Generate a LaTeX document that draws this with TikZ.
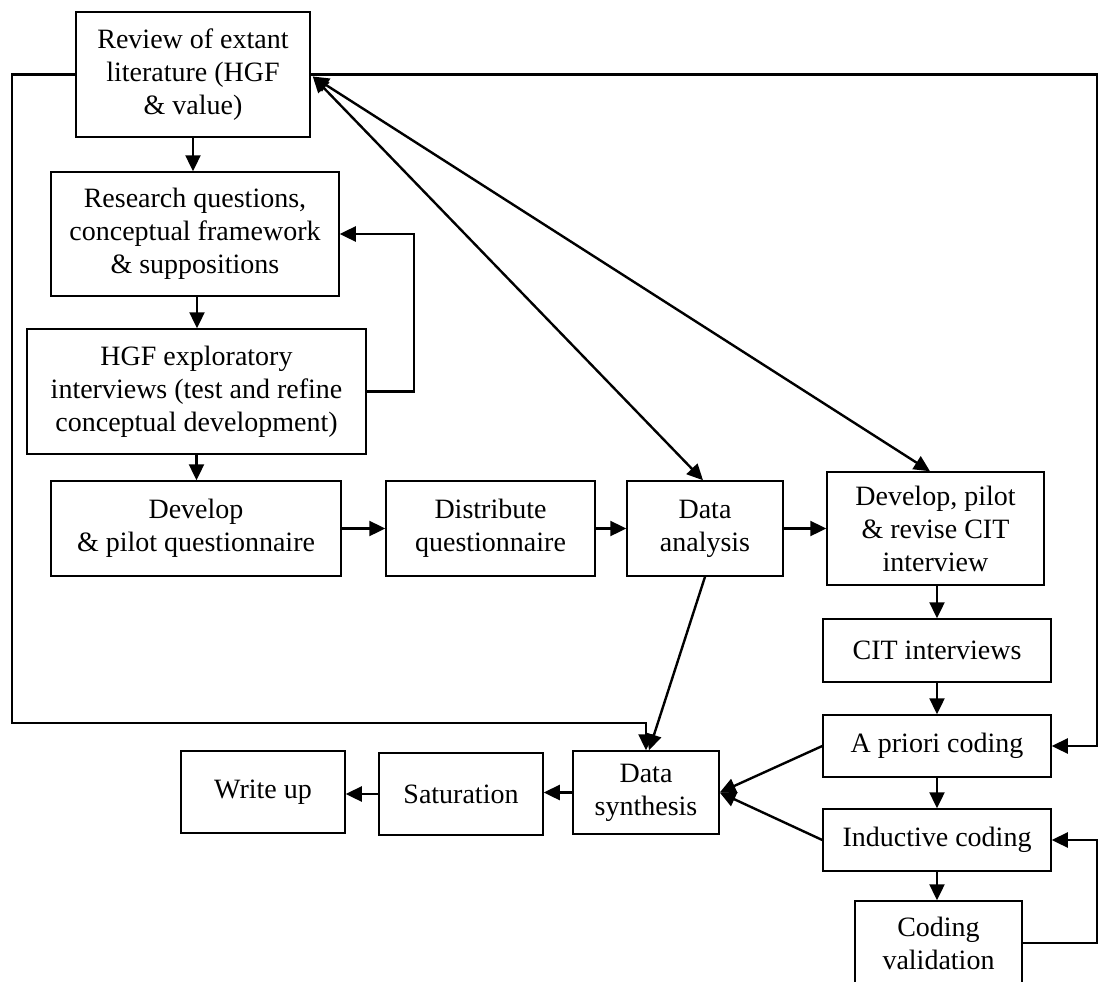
\documentclass[tikz,border=0pt]{standalone}
\usepackage{fontspec}
\setmainfont{Liberation Serif}
\usetikzlibrary{arrows.meta}
\begin{document}
\begin{tikzpicture}[x=1pt,y=-1pt,
  stage/.style={draw, line width=1.5pt, align=center, inner sep=0pt,
    font=\fontsize{28}{33}\selectfont},
  link/.style={line width=2.4pt, -{Triangle[length=16pt,width=15pt]}},
  twoway/.style={line width=2.4pt, {Triangle[length=16pt,width=15pt]}-{Triangle[length=16pt,width=15pt]}}]
\useasboundingbox (0,0) rectangle (1098,982);

% stages
\node[stage, minimum width=234pt, minimum height=125pt] (rev) at (193,74.5)
  {Review of extant\\literature (HGF\\\& value)};
\node[stage, minimum width=288pt, minimum height=124pt] (rq) at (195,234)
  {Research questions,\\conceptual framework\\\& suppositions};
\node[stage, minimum width=339pt, minimum height=125pt] (hgf) at (196.5,391.5)
  {HGF exploratory\\interviews (test and refine\\conceptual development)};
\node[stage, minimum width=290pt, minimum height=95pt] (dev) at (196,528.5)
  {Develop\\\& pilot questionnaire};
\node[stage, minimum width=209pt, minimum height=95pt] (dist) at (490.5,528.5)
  {Distribute\\questionnaire};
\node[stage, minimum width=156pt, minimum height=95pt] (da) at (705,528.5)
  {Data\\analysis};
\node[stage, minimum width=217pt, minimum height=113pt] (cit) at (935.5,528.5)
  {Develop, pilot\\\& revise CIT\\interview};
\node[stage, minimum width=228pt, minimum height=63pt] (citi) at (937,650.5)
  {CIT interviews};
\node[stage, minimum width=228pt, minimum height=62pt] (apr) at (937,746)
  {A priori coding};
\node[stage, minimum width=228pt, minimum height=62pt] (ind) at (937,840)
  {Inductive coding};
\node[stage, minimum width=167pt, minimum height=84pt] (cv) at (938.5,943)
  {Coding\\validation};
\node[stage, minimum width=146pt, minimum height=83pt] (ds) at (646,792.5)
  {Data\\synthesis};
\node[stage, minimum width=164pt, minimum height=82pt] (sat) at (461,794)
  {Saturation};
\node[stage, minimum width=164pt, minimum height=82pt] (wu) at (263,792)
  {Write up};

% routing points of the outer loops
\coordinate (lc) at (12,723);
\coordinate (rc) at (1097,0);

% main sequence
\draw[link] (rev.south) -- (rev.south |- rq.north);
\draw[link] (rq.south) ++(2,0) coordinate (rqs) -- (rqs |- hgf.north);
\draw[link] (hgf.south) -- (hgf.south |- dev.north);
\draw[link] (dev.east) -- (dist.west);
\draw[link] (dist.east) -- (da.west);
\draw[link] (da.east) -- (cit.west);
\draw[link] (cit.south) ++(1.5,0) coordinate (cits) -- (cits |- citi.north);
\draw[link] (citi.south) -- (citi.south |- apr.north);
\draw[link] (apr.south) -- (apr.south |- ind.north);
\draw[link] (ind.south) -- (ind.south |- cv.north);

% feedback from the exploratory interviews
\draw[link] (hgf.east) -- (414,391.5) |- (rq.east);

% two-way links with the literature review
\draw[twoway] ([shift={(2,2)}]rev.east) -- ([xshift=-2pt]da.north);
\draw[twoway] ([shift={(2,2)}]rev.east) -- ([xshift=-5.5pt]cit.north);

% outer loops from the literature review
\draw[link] (rev.west) -| (lc) -| (ds.north);
\draw[link] (rev.east) -| (rc |- apr.east) -- (apr.east);
\draw[link] (cv.east) -- (cv.east -| rc) |- (ind.east);

% synthesis and write-up
\draw[link] (da.south) -- ([xshift=3pt]ds.north);
\draw[link] (apr.west) -- (ds.east);
\draw[link] (ind.west) -- (ds.east);
\draw[link] (ds.west) -- (ds.west -| sat.east);
\draw[link] (sat.west) -- (sat.west -| wu.east);
\end{tikzpicture}
\end{document}
